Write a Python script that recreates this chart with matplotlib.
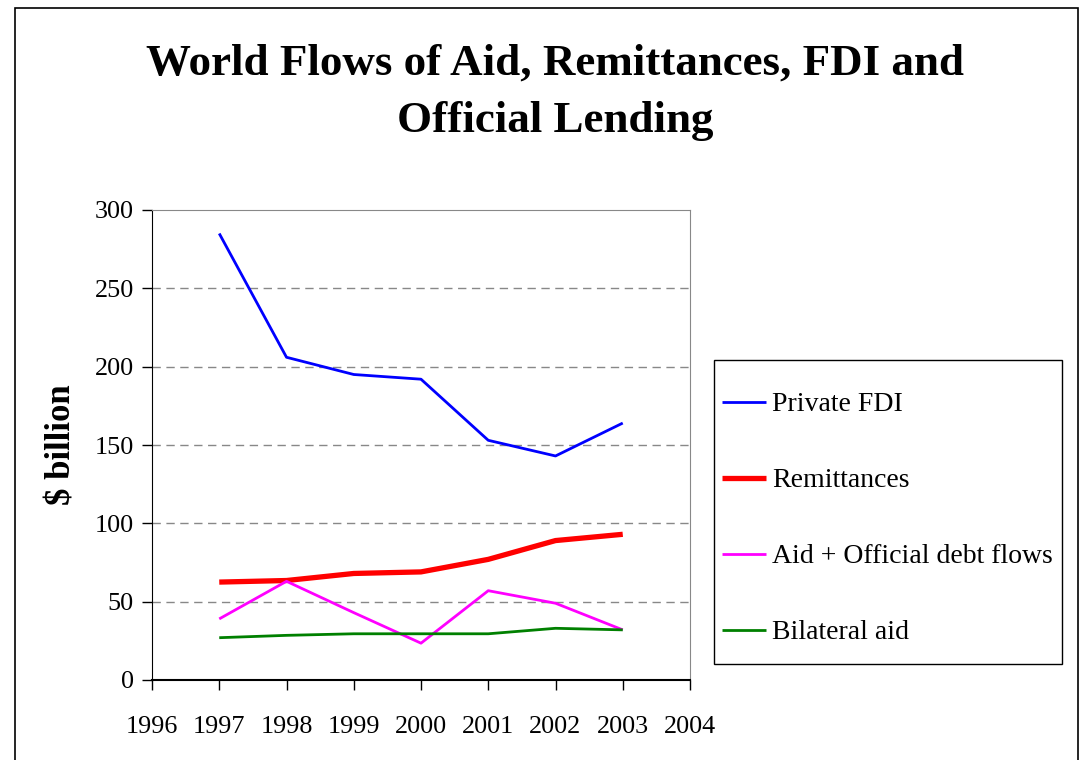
import matplotlib.pyplot as plt
from matplotlib.patches import Rectangle

years = [1997, 1998, 1999, 2000, 2001, 2002, 2003]
fdi = [285, 206, 195, 192, 153, 143, 164]
remittances = [62.5, 63.5, 68, 69, 77, 89, 93]
aid_official = [39, 63, 43, 23.5, 57, 49, 32]
bilateral_aid = [27, 28.5, 29.5, 29.5, 29.5, 33, 32]

labels = ['Private FDI', 'Remittances', 'Aid + Official debt flows', 'Bilateral aid']
colors = ['#0000ff', '#ff0000', '#ff00ff', '#008000']
widths = [2.0, 3.8, 2.0, 2.0]

plt.rcParams['font.family'] = ['Liberation Serif', 'DejaVu Serif']

fig = plt.figure(figsize=(10.81, 7.6), dpi=100)
W, H = 1081., 760.
# plot area in pixels: x 152..690, y 210..680
ax = fig.add_axes([152 / W, 1 - 680 / H, (690 - 152) / W, (680 - 210) / H])

for vals, lab, c, lw in zip([fdi, remittances, aid_official, bilateral_aid], labels, colors, widths):
    ax.plot(years, vals, color=c, lw=lw, label=lab, solid_capstyle='butt')

ax.set_xlim(1996, 2004)
ax.set_ylim(0, 300)
ax.set_xticks(range(1996, 2005))
ax.set_yticks(range(0, 301, 50))
ax.tick_params(axis='x', labelsize=18.8, direction='out', length=7, width=1, pad=19)
ax.tick_params(axis='y', labelsize=18.8, direction='out', length=7, width=1, pad=6)
for y in range(50, 300, 50):
    ax.axhline(y, color='#888888', lw=1, ls=(0, (6, 4)), zorder=0)
ax.spines['left'].set_color('black')
ax.spines['bottom'].set_color('black')
ax.spines['bottom'].set_linewidth(1.5)
ax.spines['top'].set_color('#888888')
ax.spines['right'].set_color('#888888')
ax.set_ylabel('$ billion', fontsize=25, fontweight='bold', labelpad=12)

fig.text(555 / W, 1 - 64 / H, 'World Flows of Aid, Remittances, FDI and', ha='center', va='center',
         fontsize=32.4, fontweight='bold')
fig.text(555 / W, 1 - 121 / H, 'Official Lending', ha='center', va='center',
         fontsize=32.4, fontweight='bold')

# legend box drawn by hand, entries placed inside
fig.add_artist(Rectangle((714 / W, 1 - 664 / H), (1062 - 714) / W, (664 - 360) / H, transform=fig.transFigure,
                         fill=False, edgecolor='black', lw=1))
leg = fig.legend(loc='upper left', bbox_to_anchor=(722 / W, 1 - 392 / H), fontsize=20, frameon=False,
                 borderaxespad=0, borderpad=0, labelspacing=1.82, handlelength=1.6, handletextpad=0.2)

fig.add_artist(Rectangle((15 / W, -0.05), (1078 - 15) / W, 1 - 8 / H + 0.05, transform=fig.transFigure,
                         fill=False, edgecolor='black', lw=1.2))

fig.savefig('out.png', dpi=100)
